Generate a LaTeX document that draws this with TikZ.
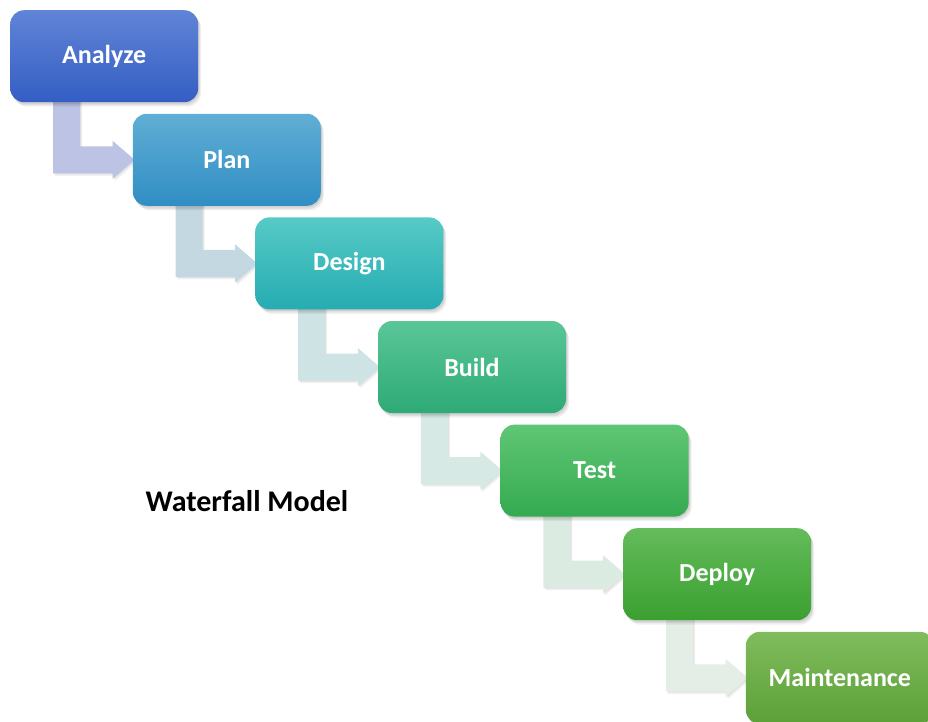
\documentclass[tikz,border=0pt]{standalone}
\usepackage{fontspec}
\setmainfont{Carlito}
\usetikzlibrary{shadows,calc}
\pgfdeclarelayer{paper}
\pgfdeclarelayer{back}
\pgfsetlayers{paper,back,main}

\definecolor{anT}{RGB}{96,132,214}\definecolor{anB}{RGB}{52,94,196}
\definecolor{plT}{RGB}{96,174,212}\definecolor{plB}{RGB}{48,142,196}
\definecolor{deT}{RGB}{86,202,198}\definecolor{deB}{RGB}{38,172,178}
\definecolor{buT}{RGB}{90,198,152}\definecolor{buB}{RGB}{46,170,118}
\definecolor{teT}{RGB}{96,198,116}\definecolor{teB}{RGB}{52,170,80}
\definecolor{dpT}{RGB}{100,188,90}\definecolor{dpB}{RGB}{58,160,48}
\definecolor{maT}{RGB}{128,188,92}\definecolor{maB}{RGB}{92,160,56}
\definecolor{ar1}{RGB}{188,195,228}
\definecolor{ar2}{RGB}{196,216,226}
\definecolor{ar3}{RGB}{206,228,228}
\definecolor{ar4}{RGB}{214,233,228}
\definecolor{ar5}{RGB}{220,235,226}
\definecolor{ar6}{RGB}{228,238,230}

\tikzset{
  softshadow/.style={
    general shadow={fill=black, opacity=0.07, shadow xshift=1pt, shadow yshift=-1.5pt},
    general shadow={fill=black, opacity=0.07, shadow xshift=2pt, shadow yshift=-3pt},
    general shadow={fill=black, opacity=0.06, shadow xshift=3pt, shadow yshift=-4.5pt}},
  stage/.style={rectangle, rounded corners=14pt, minimum width=188pt,
    minimum height=92pt, anchor=north west, inner sep=0pt, text=white,
    font=\fontsize{26}{30}\selectfont\bfseries, softshadow},
  flow/.style={
    general shadow={fill=black, opacity=0.06, shadow xshift=1pt, shadow yshift=-1pt},
    general shadow={fill=black, opacity=0.06, shadow xshift=2pt, shadow yshift=-2.5pt}},
  title/.style={font=\fontsize{30}{34}\selectfont\bfseries, text=black}
}

\newcommand\flowarrow[3]{%
  \path[fill=#3, flow] let \p1=(#1.south west), \p2=(#2.west) in
    (\x1+43pt,\y1+5pt) -- (\x1+70pt,\y1+5pt) -- (\x1+70pt,\y2+13.5pt)
    -- (\x2-20pt,\y2+13.5pt) -- (\x2-20pt,\y2+19pt) -- (\x2+2pt,\y2)
    -- (\x2-20pt,\y2-19pt) -- (\x2-20pt,\y2-13.5pt)
    -- (\x1+43pt,\y2-13.5pt) -- cycle;}

\begin{document}
\begin{tikzpicture}[x=1pt,y=-1pt]
\useasboundingbox (0,0) rectangle (928,722);
\begin{pgfonlayer}{paper}
\fill[white] (0,0) rectangle (928,722);
\end{pgfonlayer}
\clip (0,0) rectangle (928,722);

\node[stage, top color=anT, bottom color=anB] (an) at (10,10) {Analyze};
\node[stage, top color=plT, bottom color=plB] (pl) at (132.6,113.6) {Plan};
\node[stage, top color=deT, bottom color=deB] (de) at (255.2,217.2) {Design};
\node[stage, top color=buT, bottom color=buB] (bu) at (377.8,320.8) {Build};
\node[stage, top color=teT, bottom color=teB] (te) at (500.4,424.4) {Test};
\node[stage, top color=dpT, bottom color=dpB] (dp) at (623,528) {Deploy};
\node[stage, top color=maT, bottom color=maB] (ma) at (745.6,631.6) {Maintenance};

\begin{pgfonlayer}{back}
\flowarrow{an}{pl}{ar1}
\flowarrow{pl}{de}{ar2}
\flowarrow{de}{bu}{ar3}
\flowarrow{bu}{te}{ar4}
\flowarrow{te}{dp}{ar5}
\flowarrow{dp}{ma}{ar6}
\end{pgfonlayer}

\node[title] (wm) at (247,501) {Waterfall Model};
\end{tikzpicture}
\end{document}
